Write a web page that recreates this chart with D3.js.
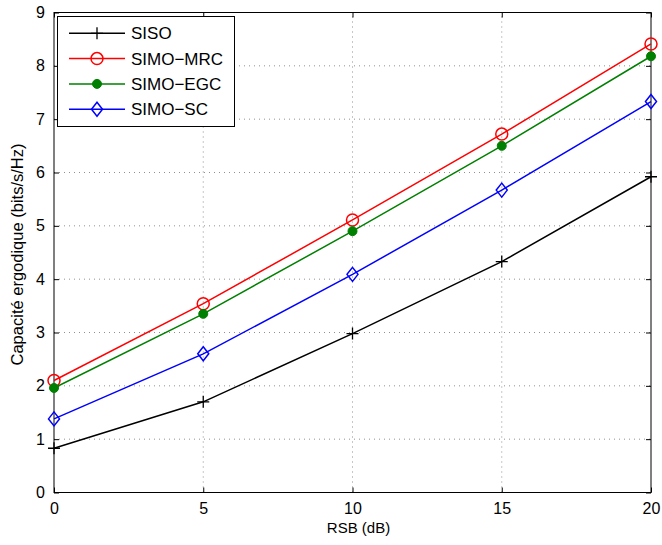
<!DOCTYPE html>
<html><head><meta charset="utf-8">
<script src="https://cdn.jsdelivr.net/npm/d3@7"></script>
<style>body{margin:0;background:#fff}svg{display:block}text{font-family:"Liberation Sans",Arial,sans-serif}</style>
</head><body>
<script>
const xValues = [0, 5, 10, 15, 20];
const siso = [0.83, 1.70, 2.98, 4.33, 5.92];
const mrc = [2.10, 3.54, 5.11, 6.72, 8.41];
const egc = [1.96, 3.35, 4.90, 6.50, 8.18];
const sc = [1.38, 2.60, 4.09, 5.67, 7.33];
const seriesNames = ["SISO", "SIMO\u2212MRC", "SIMO\u2212EGC", "SIMO\u2212SC"];
const xTicks = [0, 5, 10, 15, 20];
const yTicks = [0, 1, 2, 3, 4, 5, 6, 7, 8, 9];

const W = 662, H = 545;
const m = {left: 54, right: 11, top: 12.5, bottom: 52.5};
const svg = d3.select("body").append("svg").attr("width", W).attr("height", H);
const x = d3.scaleLinear().domain([0, 20]).range([m.left, W - m.right]);
const y = d3.scaleLinear().domain([0, 9]).range([H - m.bottom, m.top]);

// grid
const g = svg.append("g");
g.selectAll(".gx").data(xTicks.slice(1, -1)).enter().append("line")
  .attr("x1", d => x(d)).attr("x2", d => x(d)).attr("y1", y(0)).attr("y2", y(9))
  .attr("stroke", "#444").attr("stroke-width", 0.6).attr("stroke-dasharray", "1,4");
g.selectAll(".gy").data(yTicks.slice(1, -1)).enter().append("line")
  .attr("y1", d => y(d)).attr("y2", d => y(d)).attr("x1", x(0)).attr("x2", x(20))
  .attr("stroke", "#444").attr("stroke-width", 0.6).attr("stroke-dasharray", "1,4");

// axes with inward ticks
const tl = 5;
svg.append("g").attr("transform", `translate(0,${y(0)})`)
  .call(d3.axisBottom(x).tickValues(xTicks).tickSize(-tl).tickPadding(10))
  .call(a => a.select(".domain").remove())
  .call(a => a.selectAll("text").attr("font-size", 16).attr("fill", "#000"));
svg.append("g").attr("transform", `translate(0,${y(9)})`)
  .call(d3.axisTop(x).tickValues(xTicks).tickSize(-tl).tickFormat(""))
  .call(a => a.select(".domain").remove());
svg.append("g").attr("transform", `translate(${x(0)},0)`)
  .call(d3.axisLeft(y).tickValues(yTicks).tickSize(-tl).tickPadding(9))
  .call(a => a.select(".domain").remove())
  .call(a => a.selectAll("text").attr("font-size", 16).attr("fill", "#000"));
svg.append("g").attr("transform", `translate(${x(20)},0)`)
  .call(d3.axisRight(y).tickValues(yTicks).tickSize(-tl).tickFormat(""))
  .call(a => a.select(".domain").remove());
svg.append("rect").attr("x", x(0)).attr("y", y(9)).attr("width", x(20) - x(0)).attr("height", y(0) - y(9))
  .attr("fill", "none").attr("stroke", "#000").attr("stroke-width", 1);

// labels
svg.append("text").attr("x", (x(0) + x(20)) / 2 + 6).attr("y", 533).attr("text-anchor", "middle")
  .attr("font-size", 15).text("RSB (dB)");
svg.append("text").attr("transform", `translate(23,${(y(0) + y(9)) / 2 + 2}) rotate(-90)`).attr("text-anchor", "middle")
  .attr("font-size", 16.5).text("Capacité ergodique (bits/s/Hz)");

const series = [
  {name: seriesNames[0], vals: siso, color: "#000", marker: "plus"},
  {name: seriesNames[1], vals: mrc, color: "#ff0000", marker: "circle"},
  {name: seriesNames[2], vals: egc, color: "#008000", marker: "dot"},
  {name: seriesNames[3], vals: sc, color: "#0000ff", marker: "diamond"}
];
const line = d3.line().x((d, i) => x(xValues[i])).y(d => y(d));

function drawMarker(sel, type, color) {
  if (type === "plus") {
    sel.append("path").attr("d", "M-6,0H6M0,-6V6").attr("stroke", color).attr("stroke-width", 1.3).attr("fill", "none");
  } else if (type === "circle") {
    sel.append("circle").attr("r", 6).attr("fill", "none").attr("stroke", color).attr("stroke-width", 1.5);
  } else if (type === "dot") {
    sel.append("circle").attr("r", 4.5).attr("fill", color).attr("stroke", color);
  } else {
    sel.append("path").attr("d", "M0,-7L5.5,0L0,7L-5.5,0Z").attr("fill", "none").attr("stroke", color).attr("stroke-width", 1.5);
  }
}

series.forEach(s => {
  svg.append("path").datum(s.vals).attr("d", line).attr("fill", "none").attr("stroke", s.color).attr("stroke-width", 1.5);
  s.vals.forEach((v, i) => {
    const mg = svg.append("g").attr("transform", `translate(${x(xValues[i])},${y(v)})`);
    drawMarker(mg, s.marker, s.color);
  });
});

// legend
const lg = svg.append("g");
lg.append("rect").attr("x", 57.5).attr("y", 16.5).attr("width", 177).attr("height", 110)
  .attr("fill", "#fff").attr("stroke", "#000").attr("stroke-width", 1);
series.forEach((s, i) => {
  const yy = 33.3 + i * 25.3;
  lg.append("line").attr("x1", 69).attr("x2", 125).attr("y1", yy).attr("y2", yy).attr("stroke", s.color).attr("stroke-width", 1.5);
  const mg = lg.append("g").attr("transform", `translate(97,${yy})`);
  drawMarker(mg, s.marker, s.color);
  lg.append("text").attr("x", 131).attr("y", yy + 6).attr("font-size", 17).text(s.name);
});
</script>
</body></html>
